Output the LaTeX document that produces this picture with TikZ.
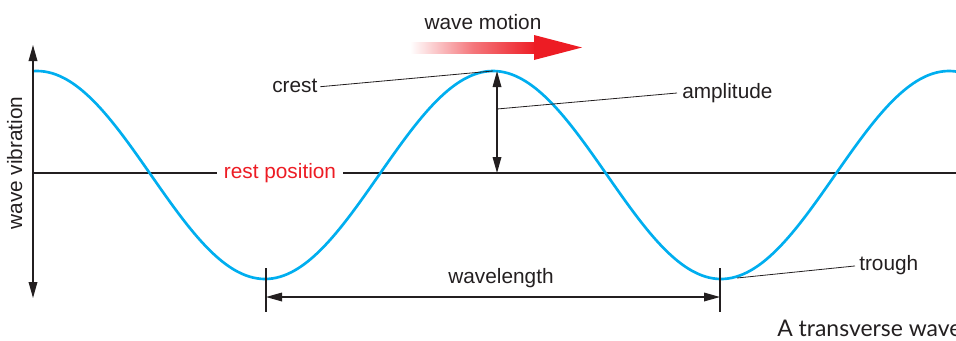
\documentclass[tikz,border=0pt]{standalone}
\usepackage{fontspec}
\setmainfont{Liberation Sans}
\newfontfamily\captionfont{Lato}
\usetikzlibrary{arrows.meta}
\definecolor{wavecyan}{RGB}{0,174,239}
\definecolor{labred}{RGB}{237,28,36}
\definecolor{ink}{RGB}{35,31,32}
\tikzset{
  lbl/.style={font=\fontsize{15.6}{18}\selectfont, text=ink, inner sep=0pt},
  leader/.style={draw=ink, line width=0.6pt},
  dimline/.style={draw=ink, line width=0.9pt},
  dimtips/.style={{Triangle[length=12pt,width=6.5pt]}-{Triangle[length=12pt,width=6.5pt]}},
  wave/.style={draw=wavecyan, line width=2pt},
}
\begin{document}
\begin{tikzpicture}[x=0.75pt,y=-0.75pt]
\useasboundingbox (0,0) rectangle (956,340);
% rest line
\draw[ink, line width=0.8pt] (33,173) -- (956,173);
\node[lbl, text=labred, fill=white, inner xsep=5pt, inner ysep=2pt, anchor=base] (rest) at (280,178) {rest position};
% wave
\draw[wave] plot[domain=33:956, samples=240, smooth] (\x,{175-104*cos((360/456)*(\x-493))});
% axis
\coordinate (axtop) at (33,45);
\coordinate (axbot) at (33,298);
\draw[dimline, dimtips] (axbot) -- (axtop);
\node[lbl, rotate=90, anchor=base] (vib) at (22,163) {wave vibration};
% amplitude arrow
\coordinate (ampbase) at (497,173);
\coordinate (amptop) at (497,71);
\draw[dimline, dimtips] (ampbase) -- (amptop);
\coordinate (ampmid) at (497,109);
\node[lbl, anchor=base west] (amp) at (682,98) {amplitude};
\coordinate (ampl) at (677,93);
\draw[leader] (ampl) -- (ampmid);
% crest
\coordinate (peak) at (493,71);
\node[lbl, anchor=base west] (crest) at (272,92) {crest};
\draw[leader] ([xshift=2pt,yshift=-1pt]crest.east) -- (peak);
% trough
\coordinate (trpt) at (737,278);
\node[lbl, anchor=base west] (trough) at (859,270) {trough};
\draw[leader] ([xshift=-3pt,yshift=-1pt]trough.west) -- (trpt);
% wavelength
\coordinate (t1top) at (266,268);
\coordinate (t1bot) at (266,312);
\coordinate (t2top) at (720,268);
\coordinate (t2bot) at (720,312);
\draw[dimline] (t1top) -- (t1bot);
\draw[dimline] (t2top) -- (t2bot);
\coordinate (w1) at (266,297);
\coordinate (w2) at (720,297);
\draw[dimline, dimtips] (w1) -- (w2);
\node[lbl, anchor=base] (wl) at (501,283) {wavelength};
% wave motion
\node[lbl, anchor=base] (motion) at (483,29) {wave motion};
\shade[left color=white, right color=labred, middle color=labred!60] (410,42.5) rectangle (536,53);
\fill[labred] (534,35) -- (582,47.5) -- (534,60) -- cycle;
% caption
\node[font=\captionfont\fontsize{17.2}{20}\selectfont, text=ink, inner sep=0pt, anchor=base west] (cap) at (777,336) {A transverse wave};
\end{tikzpicture}
\end{document}
